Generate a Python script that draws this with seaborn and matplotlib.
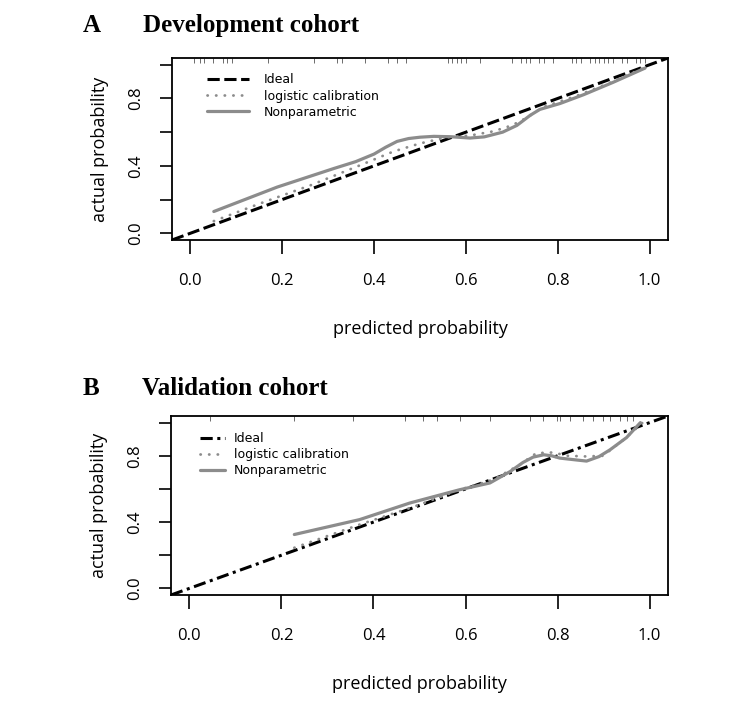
import numpy as np
import pandas as pd
import seaborn as sns
import matplotlib
matplotlib.use("Agg")
import matplotlib.pyplot as plt
import matplotlib.transforms as mtransforms

# Панель A: развивающая когорта
dev_np_x = [0.051, 0.189, 0.312, 0.360, 0.400, 0.425, 0.450, 0.475, 0.500, 0.530, 0.566, 0.609, 0.640, 0.680, 0.711, 0.740, 0.761, 0.805, 0.856, 0.920, 0.990]
dev_np_y = [0.129, 0.274, 0.384, 0.425, 0.470, 0.510, 0.545, 0.562, 0.570, 0.575, 0.573, 0.565, 0.572, 0.600, 0.640, 0.700, 0.735, 0.770, 0.822, 0.895, 0.980]
dev_lc_x = [0.051, 0.150, 0.261, 0.370, 0.442, 0.500, 0.558, 0.609, 0.660, 0.700, 0.732, 0.769, 0.841, 0.920, 0.990]
dev_lc_y = [0.072, 0.175, 0.284, 0.404, 0.485, 0.533, 0.569, 0.580, 0.605, 0.640, 0.685, 0.750, 0.815, 0.900, 0.985]
dev_rug = [0.007, 0.02, 0.03, 0.05, 0.07, 0.08, 0.09, 0.17, 0.27, 0.32, 0.33, 0.38, 0.43, 0.45,
           0.47, 0.56, 0.57, 0.58, 0.59, 0.60, 0.63, 0.70, 0.72, 0.73, 0.74, 0.76, 0.77, 0.79,
           0.83, 0.84, 0.85, 0.87, 0.88, 0.89, 0.90, 0.91, 0.92, 0.94, 0.95, 0.97, 0.98, 0.99]

# Панель B: валидационная когорта
val_np_x = [0.228, 0.370, 0.479, 0.587, 0.653, 0.697, 0.725, 0.747, 0.770, 0.787, 0.805, 0.840, 0.863, 0.890, 0.914, 0.950, 0.980]
val_np_y = [0.325, 0.415, 0.515, 0.595, 0.636, 0.705, 0.760, 0.792, 0.806, 0.800, 0.786, 0.775, 0.768, 0.795, 0.836, 0.910, 1.000]
val_lc_x = [0.228, 0.370, 0.486, 0.587, 0.660, 0.718, 0.754, 0.791, 0.820, 0.863, 0.899, 0.943, 0.985]
val_lc_y = [0.245, 0.385, 0.491, 0.595, 0.655, 0.746, 0.816, 0.820, 0.800, 0.796, 0.800, 0.896, 1.000]
val_rug = [0.044, 0.228, 0.355, 0.468, 0.508, 0.537, 0.587, 0.653, 0.740, 0.769, 0.798, 0.805,
           0.827, 0.856, 0.877, 0.899, 0.914, 0.935, 0.950, 0.964]

ideal = [-0.04, 1.04]
legend_labels = ["Ideal", "logistic calibration", "Nonparametric"]

sns.set_style("white")
plt.rcParams['font.family'] = ['Open Sans', 'DejaVu Sans']
plt.rcParams['text.color'] = 'black'
plt.rcParams['axes.labelcolor'] = 'black'
plt.rcParams['xtick.color'] = 'black'
plt.rcParams['ytick.color'] = 'black'

fig = plt.figure(figsize=(7.44, 7.14), dpi=100)
ax_a = fig.add_axes([172 / 744, 1 - 240 / 714, 496 / 744, 182 / 714])
ax_b = fig.add_axes([171 / 744, 1 - 595 / 714, 497 / 744, 179 / 714])

gray = "#8c8c8c"


def draw_panel(ax, np_x, np_y, lc_x, lc_y, rug, ideal_dash, leg_pos, hl, htp):
    df_ideal = pd.DataFrame({"x": ideal, "y": ideal})
    df_lc = pd.DataFrame({"x": lc_x, "y": lc_y})
    df_np = pd.DataFrame({"x": np_x, "y": np_y})
    sns.lineplot(data=df_ideal, x="x", y="y", ax=ax, color="black", lw=2.2,
                 label=legend_labels[0], estimator=None, sort=False)
    ax.lines[-1].set_dashes(ideal_dash)
    sns.lineplot(data=df_lc, x="x", y="y", ax=ax, color=gray, lw=2.0,
                 label=legend_labels[1], estimator=None, sort=False)
    ax.lines[-1].set_linestyle((0, (0.1, 3.0)))
    ax.lines[-1].set_dash_capstyle("round")
    sns.lineplot(data=df_np, x="x", y="y", ax=ax, color=gray, lw=2.3,
                 label=legend_labels[2], estimator=None, sort=False)

    # рисочки сверху (rug)
    trans = mtransforms.blended_transform_factory(ax.transData, ax.transAxes)
    ax.vlines(rug, 0.97, 1.0, transform=trans, color="#555555", lw=0.6)

    ax.set_xlim(-0.04, 1.04)
    ax.set_ylim(-0.04, 1.04)
    ax.set_xticks([0.0, 0.2, 0.4, 0.6, 0.8, 1.0])
    ax.set_xticklabels(["0.0", "0.2", "0.4", "0.6", "0.8", "1.0"])
    ax.set_yticks([0.0, 0.2, 0.4, 0.6, 0.8, 1.0])
    ax.set_yticklabels(["0.0", "", "0.4", "", "0.8", ""], rotation=90, va="center")
    ax.tick_params(axis="x", length=10, width=1.2, pad=14, labelsize=12, direction="out", bottom=True)
    ax.tick_params(axis="y", length=9, width=1.2, pad=11, labelsize=12, direction="out", left=True)
    ax.set_xlabel("predicted probability", fontsize=13, labelpad=22)
    ax.set_ylabel("actual probability", fontsize=13, labelpad=14)
    for s in ax.spines.values():
        s.set_color("black")
        s.set_linewidth(1.3)

    leg = ax.legend(loc="upper left", bbox_to_anchor=leg_pos, frameon=False,
                    fontsize=9, handlelength=hl, handletextpad=htp,
                    borderpad=0, borderaxespad=0, labelspacing=0.25)
    for t in leg.get_texts():
        t.set_fontfamily(["Liberation Sans Narrow", "DejaVu Sans"])


draw_panel(ax_a, dev_np_x, dev_np_y, dev_lc_x, dev_lc_y, dev_rug,
           (4, 1.5), (0.07, 0.915), 3.4, 1.2)
draw_panel(ax_b, val_np_x, val_np_y, val_lc_x, val_lc_y, val_rug,
           (4, 1.5, 1, 1.5), (0.058, 0.91), 2.0, 0.7)

serif = ["Liberation Serif", "DejaVu Serif"]
fig.text(83 / 744, 1 - 32 / 714, "A", fontsize=18, fontweight="bold", family=serif, va="baseline")
fig.text(143 / 744, 1 - 32 / 714, "Development cohort", fontsize=18, fontweight="bold", family=serif, va="baseline")
fig.text(83 / 744, 1 - 395 / 714, "B", fontsize=18, fontweight="bold", family=serif, va="baseline")
fig.text(142 / 744, 1 - 395 / 714, "Validation cohort", fontsize=18, fontweight="bold", family=serif, va="baseline")

fig.savefig("out.png", dpi=100)
